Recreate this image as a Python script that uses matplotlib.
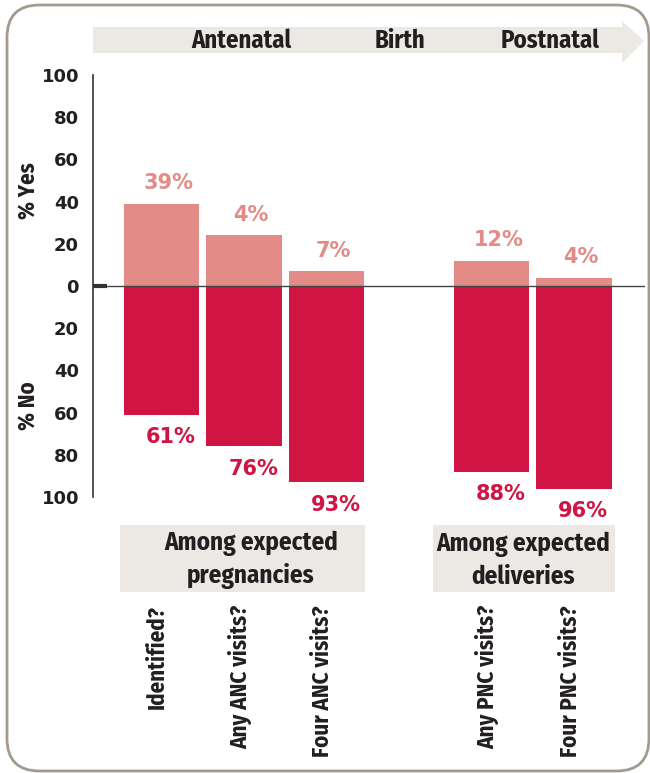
import matplotlib.pyplot as plt
from matplotlib.patches import Polygon, Rectangle, FancyBboxPatch
from matplotlib.ticker import FuncFormatter
from matplotlib import transforms

# --- Data ---
categories = ["Identified?", "Any ANC visits?", "Four ANC visits?",
              "Any PNC visits?", "Four PNC visits?"]
positions = [0, 1, 2, 4, 5]          # slot 3 is "Birth", left empty
yes_values = [39, 24, 7, 12, 4]
no_values = [61, 76, 93, 88, 96]
yes_labels = ["39%", "4%", "7%", "12%", "4%"]
no_labels = ["61%", "76%", "93%", "88%", "96%"]
stages = ["Antenatal", "Birth", "Postnatal"]
groups = ["Among expected\npregnancies", "Among expected\ndeliveries"]
ytick_values = [-100, -80, -60, -40, -20, 0, 20, 40, 60, 80, 100]

# --- Style ---
W, H = 650, 773
YES_COLOR = "#e38b86"
NO_COLOR = "#d01443"
TEXT = "#231f20"
BAND = "#ece9e5"
NARROW = ["Fira Sans Condensed", "DejaVu Sans"]
WIDE = ["DejaVu Sans"]
narrow_kw = dict(family=NARROW, fontweight="bold", fontstretch="condensed", color=TEXT)


def px(x, y):
    """pixel position in the reference -> figure fraction"""
    return x / W, 1 - y / H


fig = plt.figure(figsize=(W / 100, H / 100), dpi=100)

# rounded frame
x0, y0 = px(7, 771)
frame = FancyBboxPatch((x0, y0), 649 / W - x0, (1 - 5 / H) - y0,
                       boxstyle="round,pad=0,rounding_size=0.05",
                       transform=fig.transFigure, fill=False,
                       edgecolor="#a39a8f", linewidth=2, mutation_aspect=W / H)
fig.add_artist(frame)

# timeline arrow
arrow = Polygon([px(93, 27), px(622, 27), px(622, 21), px(644, 41),
                 px(622, 63), px(622, 53), px(93, 53)],
                closed=True, transform=fig.transFigure,
                facecolor=BAND, edgecolor="none")
fig.add_artist(arrow)
for label, xc in zip(stages, [241, 400, 550]):
    fig.text(*px(xc, 41), label, ha="center", va="center", fontsize=17.8, **narrow_kw)

# main axes
left, top = px(93, 75)
right, bottom = px(645, 497)
ax = fig.add_axes([left, bottom, right - left, top - bottom])

width = 0.91
ax.bar(positions, yes_values, width=width, color=YES_COLOR, zorder=2)
ax.bar(positions, [-v for v in no_values], width=width, color=NO_COLOR, zorder=2)

for p, v, lab in zip(positions, yes_values, yes_labels):
    ax.text(p + 0.08, v + 5, lab, ha="center", va="bottom", fontsize=15,
            fontweight="bold", family=WIDE, color=YES_COLOR)
for p, v, lab in zip(positions, no_values, no_labels):
    ax.text(p + 0.11, -v - 6, lab, ha="center", va="top", fontsize=15,
            fontweight="bold", family=WIDE, color=NO_COLOR)

ax.set_xlim(-0.83, 5.86)
ax.set_ylim(-100, 100)
ax.axhline(0, color="#444444", linewidth=1, zorder=3)
ax.plot([-0.83, -0.66], [0, 0], color="#333333", linewidth=3,
        solid_capstyle="butt", clip_on=False, zorder=4)

ax.set_yticks(ytick_values)
ax.yaxis.set_major_formatter(FuncFormatter(lambda v, _: f"{abs(int(v))}"))
ax.tick_params(axis="y", length=0, pad=10, labelsize=13, colors=TEXT)
for t in ax.get_yticklabels():
    t.set_fontweight("bold")
ax.set_xticks([])
for s in ["top", "right", "bottom"]:
    ax.spines[s].set_visible(False)
ax.spines["left"].set_color("#333333")
ax.spines["left"].set_linewidth(1.2)

fig.text(*px(29, 191), "% Yes", rotation=90, ha="center", va="center",
         fontsize=16.5, **narrow_kw)
fig.text(*px(29, 406), "% No", rotation=90, ha="center", va="center",
         fontsize=16.5, **narrow_kw)

# group boxes
for (bx0, bx1), tx, label in zip([(120, 365), (433, 615)], [251, 523], groups):
    gx, gy = px(bx0, 592)
    fig.add_artist(Rectangle((gx, gy), (bx1 - bx0) / W, 67 / H,
                             transform=fig.transFigure, facecolor=BAND,
                             edgecolor="none"))
    fig.text(*px(tx, 560), label, ha="center", va="center",
             fontsize=18, linespacing=1.38, **narrow_kw)

# category labels, rotated, hanging below the boxes
cat_trans = transforms.blended_transform_factory(ax.transData, fig.transFigure)
for p, cat in zip(positions, categories):
    ax.text(p - 0.05, 1 - 605 / H, cat, rotation=90, ha="center", va="top",
            fontsize=16.5, transform=cat_trans, clip_on=False, **narrow_kw)

fig.savefig("out.png", dpi=100)
